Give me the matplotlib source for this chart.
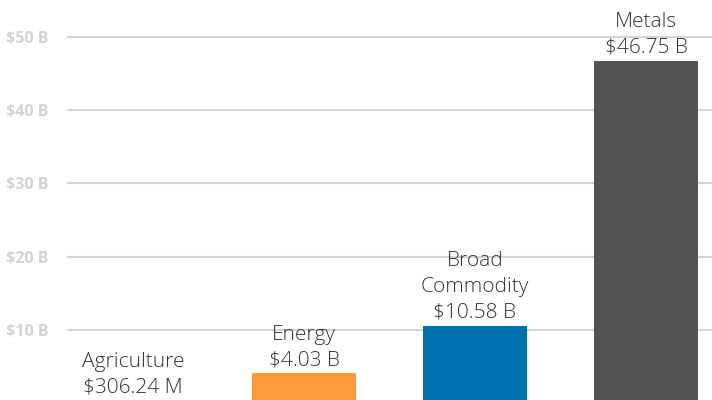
import matplotlib
matplotlib.use("Agg")
import matplotlib.pyplot as plt

categories = ["Agriculture", "Energy", "Broad\nCommodity", "Metals"]
values_b = [0.30624, 4.03, 10.58, 46.75]
value_labels = ["$306.24 M", "$4.03 B", "$10.58 B", "$46.75 B"]
colors = ["#8cc63e", "#fd9b3b", "#0071ae", "#535456"]
yticks = [10, 20, 30, 40, 50]
ytick_labels = ["$10 B", "$20 B", "$30 B", "$40 B", "$50 B"]

plt.rcParams["font.family"] = ["Open Sans", "DejaVu Sans"]

fig = plt.figure(figsize=(7.12, 4.0), dpi=100)
ax = fig.add_axes([67/712, -3/400, 645/712, 403/400])
x = list(range(len(categories)))
ax.bar(x, values_b, width=0.61, color=colors, zorder=3)
ax.set_xlim(-0.386, 3.386)
ax.set_ylim(0, 55.05)
ax.set_yticks(yticks)
ax.set_yticklabels(ytick_labels, fontsize=11.5, fontweight="bold", color="#d3d3d3")
ax.tick_params(axis="y", length=0, pad=13)
ax.set_xticks([])
ax.grid(axis="y", color="#d4d4d4", linewidth=1.5, zorder=0)
for s in ax.spines.values():
    s.set_visible(False)
for xi, v, c, lab in zip(x, values_b, categories, value_labels):
    ax.annotate(f"{c}\n{lab}", (xi, v), xytext=(0, 2), textcoords="offset points",
                ha="center", va="bottom", fontsize=15, color="#333333",
                fontweight="light", linespacing=1.4, zorder=4)
fig.savefig("out.png", dpi=100)
